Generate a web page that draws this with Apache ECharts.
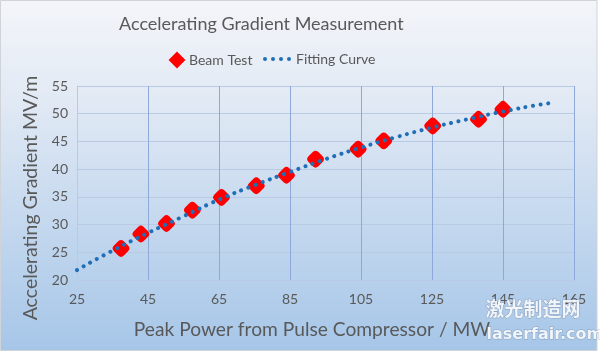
<!DOCTYPE html>
<html>
<head>
<meta charset="utf-8">
<script src="https://cdn.jsdelivr.net/npm/echarts@6/dist/echarts.min.js"></script>
<style>html,body{margin:0;padding:0;background:#fff;}#c{width:600px;height:356px;}</style>
</head>
<body>
<div id="c"></div>
<script>
// Beam test measurements
var beamPower = [37.4, 43.0, 50.2, 57.5, 65.7, 75.5, 84.0, 92.2, 104.2, 111.4, 125.2, 138.1, 145.0];
var beamGradient = [25.7, 28.3, 30.2, 32.6, 34.9, 37.0, 38.9, 41.8, 43.6, 45.1, 47.8, 49.0, 50.8];
// Fitting curve
var fitPower = [25, 35, 45, 55, 65, 75, 85, 95, 105, 115, 125, 135, 145, 155, 159.5];
var fitGradient = [21.8, 25.3, 28.5, 31.5, 34.5, 37.1, 39.5, 41.8, 43.9, 45.8, 47.5, 49.0, 50.4, 51.6, 52.0];
var xTicks = [25, 45, 65, 85, 105, 125, 145, 165];
var yTicks = [20, 25, 30, 35, 40, 45, 50, 55];

var FONT = 'Lato';
var TXT = '#595959';
var BLUE = '#1F6EB8';

var dotsIcon = 'path://M0,2a2,2 0 1,0 4,0a2,2 0 1,0 -4,0z' +
  'M8,2a2,2 0 1,0 4,0a2,2 0 1,0 -4,0z' +
  'M16,2a2,2 0 1,0 4,0a2,2 0 1,0 -4,0z' +
  'M24,2a2,2 0 1,0 4,0a2,2 0 1,0 -4,0z';

var chart = echarts.init(document.getElementById('c'), null, {renderer: 'canvas'});
chart.setOption({
  animation: false,
  textStyle: {fontFamily: FONT},
  graphic: [
    {type: 'rect', z: -10, silent: true,
     shape: {x: 0.5, y: 0.5, width: 596.5, height: 350},
     style: {
       fill: new echarts.graphic.LinearGradient(0, 0, 0, 1, [
         {offset: 0, color: '#F3F5F9'},
         {offset: 0.25, color: '#E4EBF5'},
         {offset: 1, color: '#A6C6E8'}
       ]),
       stroke: '#D0D3D8', lineWidth: 1
     }},
    {type: 'text', z: 10, silent: true, left: 485, top: 299,
     style: {text: '激光制造网', font: 'bold 19px "Noto Sans CJK SC"', fill: 'rgba(255,255,255,0.85)', stroke: 'rgba(110,130,160,0.55)', lineWidth: 1}},
    {type: 'text', z: 10, silent: true, left: 486, top: 326,
     style: {text: 'laserfair.com', font: 'bold 16px "DejaVu Sans"', fill: 'rgba(255,255,255,0.85)', stroke: 'rgba(110,130,160,0.55)', lineWidth: 1}},
    {type: 'text', silent: true, x: 31, y: 198, rotation: Math.PI / 2,
     style: {text: 'Accelerating Gradient MV/m', font: '19.5px ' + FONT, fill: TXT, align: 'center', verticalAlign: 'middle'}}
  ],
  title: {
    text: 'Accelerating Gradient Measurement',
    left: 114, top: 10,
    textStyle: {fontFamily: FONT, fontSize: 18, fontWeight: 'normal', color: TXT}
  },
  legend: [
    {
      top: 52, left: 169, padding: 0,
      itemWidth: 14, itemHeight: 14, itemGap: 5,
      textStyle: {fontFamily: FONT, fontSize: 14, color: TXT},
      data: [{name: 'Beam Test', icon: 'diamond'}]
    },
    {
      top: 52, left: 263, padding: 0,
      itemWidth: 28, itemHeight: 4, itemGap: 4,
      textStyle: {fontFamily: FONT, fontSize: 14, color: TXT},
      itemStyle: {borderWidth: 0, color: BLUE},
      data: [{name: 'Fitting Curve', icon: dotsIcon}]
    }
  ],
  grid: {left: 77, right: 26, top: 86, bottom: 76, containLabel: false},
  xAxis: {
    type: 'value', min: xTicks[0], max: xTicks[xTicks.length - 1], interval: 20,
    name: 'Peak Power from Pulse Compressor / MW',
    nameLocation: 'middle', nameGap: 40,
    nameTextStyle: {fontFamily: FONT, fontSize: 19.2, color: TXT, padding: [0, 27, 0, 0]},
    axisLine: {show: true, lineStyle: {color: '#B9CAE4'}},
    axisTick: {show: false},
    axisLabel: {fontFamily: FONT, fontSize: 14, color: TXT, margin: 12},
    splitLine: {show: true, lineStyle: {color: '#8EA8DA', width: 1}}
  },
  yAxis: {
    type: 'value', min: yTicks[0], max: yTicks[yTicks.length - 1], interval: 5,
    axisLine: {show: true, lineStyle: {color: '#B9CAE4'}},
    axisTick: {show: false},
    axisLabel: {fontFamily: FONT, fontSize: 14, color: TXT, margin: 9},
    splitLine: {show: true, lineStyle: {color: '#B9CAE4', width: 1}}
  },
  series: [
    {
      name: 'Beam Test', type: 'scatter',
      symbol: 'roundRect', symbolRotate: 45, symbolSize: 12,
      itemStyle: {color: '#FF0000', borderColor: '#FF0000', borderWidth: 2, opacity: 1},
      data: beamPower.map(function (x, i) { return [x, beamGradient[i]]; }),
      z: 2
    },
    {
      name: 'Fitting Curve', type: 'line', smooth: true, showSymbol: false,
      symbol: 'none',
      itemStyle: {color: BLUE},
      lineStyle: {color: BLUE, width: 4, type: [0.01, 7.6], cap: 'round'},
      data: fitPower.map(function (x, i) { return [x, fitGradient[i]]; }),
      z: 3
    }
  ]
});
</script>
</body>
</html>
